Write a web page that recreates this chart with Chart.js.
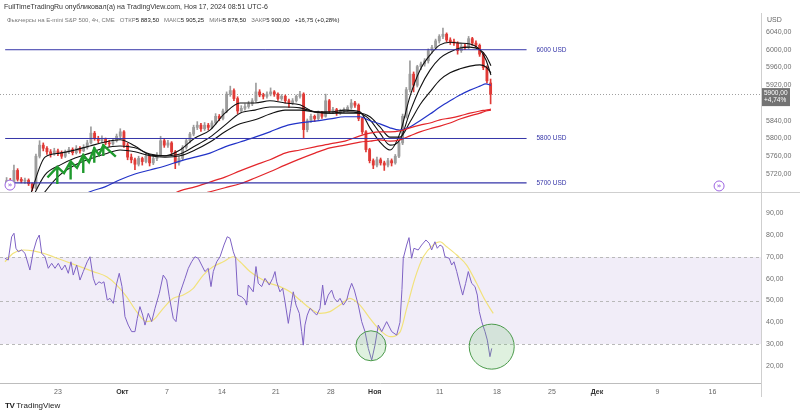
<!DOCTYPE html>
<html>
<head>
<meta charset="utf-8">
<script src="https://cdn.jsdelivr.net/npm/chart.js@4.4.1/dist/chart.umd.min.js"></script>
<style>
  html, body { margin: 0; padding: 0; background: #fff; width: 800px; height: 414px; overflow: hidden;
    font-family: "Liberation Sans", Arial, sans-serif; }
  #topBox { position: absolute; left: 0; top: 0; width: 800px; height: 193px; }
  #botBox { position: absolute; left: 0; top: 193px; width: 800px; height: 221px; }
  .head1 { position: absolute; left: 4px; top: 3px; font-size: 7px; color: #333; white-space: nowrap; }
  .head2 { position: absolute; left: 7px; top: 17px; font-size: 6px; color: #777; white-space: nowrap; }
  .head2 b { font-weight: normal; color: #222; }
  .usd { position: absolute; left: 767px; top: 16px; font-size: 7px; color: #666; }
  .logo { position: absolute; left: 5px; top: 401px; font-size: 8px; color: #222; white-space: nowrap; }
  .logo b { font-weight: 900; letter-spacing: -0.5px; margin-right: 2px; }
</style>
</head>
<body>
<div id="topBox"><canvas id="priceCanvas"></canvas></div>
<div id="botBox"><canvas id="rsiCanvas"></canvas></div>
<div class="head1">FullTimeTradingRu опубликовал(а) на TradingView.com, Ноя 17, 2024 08:51 UTC-6</div>
<div class="head2">Фьючерсы на E-mini S&amp;P 500, 4ч, CME&nbsp;&nbsp; ОТКР<b>5 883,50</b>&nbsp;&nbsp; МАКС<b>5 905,25</b>&nbsp;&nbsp; МИН<b>5 878,50</b>&nbsp;&nbsp; ЗАКР<b>5 900,00</b>&nbsp;&nbsp; <b>+16,75 (+0,28%)</b></div>
<div class="usd">USD</div>
<div class="logo"><b>TV</b>TradingView</div>

<script>
// x unit = trading days counted from Mon Sep 23 (0)
const tickDays = [0, 5.85, 9.9, 14.9, 19.8, 24.8, 28.8, 34.7, 39.9, 44.9, 49, 54.5, 59.5];
const tickLabels = ["23", "Окт", "7", "14", "21", "28", "Ноя", "11", "18", "25", "Дек", "9", "16"];
const monthLabels = ["Окт", "Ноя", "Дек"];
const priceTicks = [5720, 5760, 5800, 5840, 5920, 5960, 6000, 6040];
const rsiTicks = [20, 30, 40, 50, 60, 70, 80, 90];
const levels = [6000, 5800, 5700];

// candles (merged 4h bars, 3 per trading day)
const firstBarDay = -4.67;
const barsPerDay = 3;
const opens = [5702,5705,5700,5728,5708,5704,5706,5698,5688,5760,
  5785,5778,5770,5765,5772,5768,5760,5770,5775,5768,
  5778,5772,5780,5790,5812,5800,5795,5798,5790,5788,
  5795,5805,5815,5785,5758,5752,5742,5755,5748,5760,
  5745,5755,5762,5795,5785,5790,5770,5745,5755,5780,
  5795,5810,5825,5830,5822,5830,5825,5835,5850,5845,
  5862,5900,5908,5890,5862,5868,5872,5878,5885,5905,
  5898,5895,5900,5905,5900,5890,5895,5885,5880,5885,
  5895,5900,5820,5840,5850,5845,5858,5850,5885,5862,
  5865,5858,5862,5865,5870,5880,5875,5845,5815,5775,
  5750,5740,5752,5745,5740,5750,5745,5760,5790,5850,
  5910,5945,5920,5962,5968,5975,5998,6005,6020,6030,
  6035,6022,6018,6015,5998,6008,6005,6025,6015,6010,
  5990,5960,5925];
const highs = [5712,5710,5740,5732,5712,5711,5709,5700,5765,5795,
  5790,5782,5775,5778,5776,5772,5774,5780,5779,5784,
  5782,5786,5796,5826,5816,5805,5806,5801,5796,5800,
  5810,5822,5818,5790,5765,5756,5760,5758,5766,5763,
  5760,5768,5805,5800,5796,5793,5773,5760,5784,5799,
  5814,5830,5838,5834,5836,5834,5840,5856,5854,5866,
  5905,5918,5912,5894,5874,5878,5884,5890,5925,5910,
  5902,5905,5914,5908,5903,5899,5898,5889,5890,5898,
  5906,5903,5844,5855,5853,5862,5861,5900,5888,5870,
  5868,5866,5869,5874,5888,5884,5878,5848,5818,5778,
  5754,5758,5756,5749,5755,5754,5764,5795,5855,5915,
  5975,5950,5965,5972,5980,6002,6010,6024,6034,6049,
  6038,6027,6024,6018,6012,6013,6030,6028,6020,6013,
  5994,5964,5934];
const lows = [5696,5697,5698,5704,5700,5699,5694,5682,5686,5756,
  5772,5764,5758,5762,5761,5755,5757,5766,5763,5765,
  5767,5770,5776,5788,5796,5790,5791,5786,5782,5785,
  5792,5800,5780,5752,5745,5730,5738,5740,5745,5738,
  5741,5750,5760,5780,5780,5765,5732,5740,5752,5776,
  5790,5806,5820,5816,5818,5819,5822,5832,5840,5842,
  5858,5895,5885,5856,5858,5864,5868,5874,5882,5894,
  5889,5891,5896,5895,5886,5886,5880,5870,5876,5882,
  5891,5802,5815,5836,5838,5842,5845,5848,5858,5856,
  5852,5854,5858,5861,5866,5870,5840,5810,5770,5745,
  5732,5736,5740,5728,5736,5738,5742,5757,5786,5846,
  5905,5905,5916,5955,5963,5970,5992,6000,6015,6025,
  6018,6012,6010,5990,5994,6000,6002,6010,6005,5985,
  5955,5925,5878];
const closes = [5705,5700,5728,5708,5704,5706,5698,5688,5760,5785,
  5778,5770,5765,5772,5768,5760,5770,5775,5768,5778,
  5772,5780,5790,5812,5800,5795,5798,5790,5788,5795,
  5805,5815,5785,5758,5752,5742,5755,5748,5760,5745,
  5755,5762,5795,5785,5790,5770,5745,5755,5780,5795,
  5810,5825,5830,5822,5830,5825,5835,5850,5845,5862,
  5900,5908,5890,5862,5868,5872,5878,5885,5905,5898,
  5895,5900,5905,5900,5890,5895,5885,5880,5885,5895,
  5900,5820,5840,5850,5845,5858,5850,5885,5862,5865,
  5858,5862,5865,5870,5880,5875,5845,5815,5775,5750,
  5740,5752,5745,5740,5750,5745,5760,5790,5850,5910,
  5945,5920,5962,5968,5975,5998,6005,6020,6030,6035,
  6022,6018,6015,5998,6008,6005,6025,6015,6010,5990,
  5960,5930,5900];

// moving averages, read at these days
const maDays = [-2.55,-1.18,0.18,1.55,2.91,4.27,5.64,7.0,8.36,9.73,
  11.09,12.45,13.82,15.18,16.55,17.91,19.27,20.64,22.0,23.36,
  24.73,26.09,27.45,28.36,29.27,30.18,31.09,32.0,32.91,33.82,
  34.73,35.64,36.55,37.45,38.36,38.91,39.36];
const maFast = [5670,5758,5767,5774,5783,5792,5797,5783,5763,5761,
  5774,5801,5819,5857,5880,5880,5885,5880,5876,5860,
  5860,5864,5860,5824,5792,5774,5812,5895,5954,5988,
  6011,6017,6015,6013,6000,5977,5943];
const maMid = [5655,5718,5740,5756,5767,5779,5783,5779,5765,5761,
  5765,5783,5803,5830,5857,5864,5871,5871,5869,5860,
  5857,5860,5857,5842,5812,5785,5797,5860,5914,5954,
  5981,5995,6004,6006,6000,5986,5964];
const maSlow = [5630,5680,5718,5740,5754,5765,5774,5770,5761,5758,
  5761,5774,5792,5815,5833,5842,5855,5864,5864,5860,
  5857,5857,5857,5849,5826,5803,5803,5837,5876,5905,
  5932,5948,5957,5963,5966,5961,5948];
const maBlue = [null,null,null,5660,5680,5691,5707,5720,5729,5738,
  5749,5758,5767,5781,5792,5803,5815,5828,5835,5839,
  5844,5849,5849,5840,5833,5824,5819,5826,5840,5855,
  5871,5885,5898,5909,5918,5923,5920];
const maRed1 = [null,null,null,null,null,null,null,null,5652,5666,
  5682,5691,5702,5713,5727,5740,5752,5767,5774,5781,
  5788,5794,5806,5812,5815,5815,5817,5824,5830,5835,
  5842,5846,5851,5857,5862,5864,5866];
const maRed2 = [null,null,null,null,null,null,null,null,null,null,
  5658,5671,5680,5689,5698,5711,5725,5740,5754,5767,
  5779,5785,5792,5794,5797,5794,5797,5806,5815,5822,
  5828,5835,5844,5851,5857,5862,5864];

// RSI and its average
const rsiDays = [-4.82,-4.52,-4.21,-4.0,-3.82,-3.61,-3.30,-3.0,-2.55,-2.25,
  -1.94,-1.70,-1.48,-1.18,-0.88,-0.57,-0.27,0.03,0.34,0.64,
  0.94,1.18,1.39,1.70,2.0,2.30,2.66,2.91,3.21,3.43,
  3.73,3.97,4.18,4.48,4.73,5.03,5.34,5.57,5.82,6.09,
  6.39,6.70,7.0,7.21,7.45,7.70,7.91,8.21,8.52,8.82,
  9.21,9.57,9.88,10.12,10.48,10.73,11.03,11.34,11.55,11.85,
  12.15,12.45,12.75,13.06,13.36,13.66,13.91,14.12,14.43,14.73,
  15.09,15.39,15.64,15.94,16.15,16.34,16.70,17.0,17.15,17.30,
  17.75,18.0,18.21,18.52,18.82,19.21,19.52,19.73,19.88,20.18,
  20.43,20.64,20.94,21.15,21.39,21.64,21.94,22.15,22.30,22.45,
  22.66,22.91,23.21,23.52,23.82,24.06,24.27,24.57,24.88,25.12,
  25.39,25.64,25.94,26.25,26.48,26.70,26.94,27.30,27.61,27.91,
  28.21,28.52,28.82,29.12,29.43,29.88,30.34,30.79,31.09,31.27,
  31.39,31.70,31.91,32.15,32.36,32.75,33.06,33.45,33.75,33.97,
  34.27,34.48,34.73,34.97,35.18,35.57,35.79,36.0,36.25,36.55,
  36.79,37.06,37.30,37.61,37.91,38.12,38.30,38.52,38.82,39.03,
  39.27,39.43];
const rsiValues = [69.4,68.6,79.3,80.9,74.0,72.4,73.2,71.7,64.0,72.4,
  77.8,80.1,71.7,70.1,64.8,67.1,64.8,67.1,64.0,66.3,
  62.5,67.8,61.7,66.3,59.4,63.3,67.8,70.1,60.2,57.1,
  58.6,57.9,58.6,50.2,51.0,48.7,57.9,62.5,56.4,42.6,
  38.7,35.7,35.7,41.8,47.2,43.3,38.7,44.1,40.3,46.4,
  53.3,61.7,59.4,51.7,41.8,40.3,52.5,57.1,60.2,64.8,
  67.8,70.1,69.4,66.3,63.3,64.8,56.4,63.3,67.8,70.1,
  75.5,79.3,78.6,72.4,69.4,52.5,51.7,50.2,47.9,57.1,
  54.0,65.6,57.9,56.4,60.2,57.1,60.2,63.3,58.6,54.0,
  55.6,49.4,39.5,46.4,54.0,47.9,44.1,35.7,29.5,38.7,
  43.3,46.4,44.9,43.3,46.4,57.1,47.9,52.5,54.8,51.0,
  49.4,51.0,47.9,50.2,54.8,57.9,54.8,47.9,40.3,35.7,
  28.0,22.6,29.5,38.7,35.7,40.3,35.7,34.1,40.0,55.0,
  69.4,75.5,78.9,69.4,74.0,73.2,75.5,77.8,76.3,73.2,
  77.0,74.0,75.5,74.7,70.1,69.4,66.3,67.8,63.3,57.1,
  52.5,57.9,63.3,57.9,56.4,52.5,44.9,40.3,35.7,31.8,
  24.2,28.0];
const rsiMaDays = [-4.82,-4.06,-3.15,-2.25,-1.34,-0.43,0.79,2.0,3.21,4.43,
  5.34,6.25,7.15,8.06,8.66,9.57,10.48,11.39,12.30,13.21,
  14.12,15.03,15.94,16.55,17.45,18.36,19.27,20.18,21.09,22.0,
  22.91,23.82,24.73,25.64,26.55,27.45,28.36,29.27,30.18,31.09,
  31.70,32.45,33.21,34.12,34.73,35.34,36.25,37.15,38.06,38.82,
  39.57];
const rsiMaValues = [67.8,71.7,73.2,72.8,71.7,70.1,67.8,65.6,63.3,60.9,
  57.1,51.7,44.9,40.3,41.0,46.4,51.0,52.5,55.6,61.7,
  65.6,67.8,70.1,67.8,63.3,60.2,57.9,56.4,54.0,50.2,
  46.4,44.1,44.9,47.9,51.0,47.9,41.8,36.4,33.4,35.5,
  46.4,60.2,70.1,75.5,77.0,74.7,70.9,66.3,57.9,50.2,
  44.1];

// hand drawings (in data units)
const greenDays =   [-0.88,-0.06,0.55,1.15,1.73,2.30,2.82,3.30,3.73,4.12,5.18, null, -0.06,-0.06, null, 1.15,1.15, null, 2.30,2.30, null, 3.30,3.30, null, 4.12,4.12];
const greenPrices = [5714,5736,5722,5748,5734,5763,5747,5778,5763,5785,5761, null, 5736,5700, null, 5748,5710, null, 5763,5725, null, 5778,5748, null, 5785,5763];
const rsiCircles = [[28.45, 29.2], [39.43, 28.8]];
const eventMarks = [[-4.36, 5695], [60.1, 5693]];

const dayMin = -5.27, dayMax = 63.91;
const priceMin = 5679.4, priceMax = 6082.8;
const rsiMin = 12.1, rsiMax = 99.4;
const levelFrom = -4.8, levelTo = 42.6, levelLabelDay = 43.5;
const AXIS_W = 39;
const UP = "#9c9c9c", DOWN = "#e03a36", LEVEL = "#3535a8";

Chart.defaults.font.family = "'Liberation Sans', Arial, sans-serif";

const fmt = v => v.toFixed(2).replace(".", ",");
const candleDays = closes.map((_, i) => firstBarDay + i / barsPerDay);
const candleColor = ctx => closes[ctx.dataIndex] >= opens[ctx.dataIndex] ? UP : DOWN;
// keep tick labels from eating into the plot area
const noPad = s => { s.paddingTop = 0; s.paddingBottom = 0; s.paddingLeft = 0; s.paddingRight = 0; };

function maLine(values, color, width) {
  return {
    type: "line", order: 3,
    data: maDays.map((d, i) => ({ x: d, y: values[i] })),
    borderColor: color, borderWidth: width, pointRadius: 0,
    cubicInterpolationMode: "monotone", spanGaps: false
  };
}

// ---- top pane decorations
const topDecor = {
  id: "topDecor",
  beforeDatasetsDraw(chart) {
    const { ctx, chartArea: a, scales: { y } } = chart;
    const py = Math.round(y.getPixelForValue(closes[closes.length - 1])) + 0.5;
    ctx.save();
    ctx.strokeStyle = "#a0a0a0";
    ctx.lineWidth = 1;
    ctx.setLineDash([1, 2]);
    ctx.beginPath(); ctx.moveTo(a.left, py); ctx.lineTo(a.right, py); ctx.stroke();
    ctx.restore();
  },
  afterDraw(chart) {
    const { ctx, chartArea: a, scales: { x, y } } = chart;
    ctx.save();
    // separators
    ctx.strokeStyle = "#cfcfcf";
    ctx.lineWidth = 1;
    ctx.beginPath(); ctx.moveTo(a.right + 0.5, a.top); ctx.lineTo(a.right + 0.5, chart.height); ctx.stroke();
    ctx.beginPath(); ctx.moveTo(0, chart.height - 0.5); ctx.lineTo(chart.width, chart.height - 0.5); ctx.stroke();

    // level labels
    ctx.fillStyle = LEVEL;
    ctx.font = "6.5px 'Liberation Sans', Arial, sans-serif";
    ctx.textBaseline = "middle";
    ctx.textAlign = "left";
    levels.forEach(l => ctx.fillText(l + " USD", x.getPixelForValue(levelLabelDay), y.getPixelForValue(l)));

    // event icons
    eventMarks.forEach(([d, p]) => {
      const cx = x.getPixelForValue(d), cy = y.getPixelForValue(p);
      ctx.beginPath(); ctx.arc(cx, cy, 5, 0, Math.PI * 2);
      ctx.fillStyle = "#fff"; ctx.fill();
      ctx.strokeStyle = "#9b63e0"; ctx.lineWidth = 1; ctx.stroke();
      ctx.fillStyle = "#9b63e0";
      ctx.font = "bold 7px 'DejaVu Sans', sans-serif";
      ctx.textAlign = "center";
      ctx.fillText("»", cx, cy + 0.5);
    });

    // last price box
    const py = y.getPixelForValue(closes[closes.length - 1]);
    ctx.fillStyle = "#737373";
    ctx.fillRect(a.right + 1, py - 6, 28, 18);
    ctx.fillStyle = "#fff";
    ctx.font = "6.5px 'Liberation Sans', Arial, sans-serif";
    ctx.textAlign = "left";
    ctx.fillText("5900,00", a.right + 3, py - 1);
    ctx.fillText("+4,74%", a.right + 3, py + 6.5);
    ctx.restore();
  }
};

new Chart(document.getElementById("priceCanvas"), {
  type: "bar",
  data: {
    datasets: [
      {
        type: "bar", order: 6, grouped: false, barThickness: 1,
        data: candleDays.map((d, i) => ({ x: d, y: [lows[i], highs[i]] })),
        backgroundColor: candleColor
      },
      {
        type: "bar", order: 5, grouped: false, barThickness: 2.2, minBarLength: 1,
        data: candleDays.map((d, i) => ({ x: d, y: [opens[i], closes[i]] })),
        backgroundColor: candleColor
      },
      maLine(maRed2, "#e3262b", 1.2),
      maLine(maRed1, "#e3262b", 1.2),
      maLine(maBlue, "#2233c8", 1.2),
      maLine(maSlow, "#111", 1.1),
      maLine(maMid, "#111", 1.1),
      maLine(maFast, "#111", 1.1),
      ...levels.map(l => ({
        type: "line", order: 1,
        data: [{ x: levelFrom, y: l }, { x: levelTo, y: l }],
        borderColor: LEVEL, borderWidth: l === 5700 ? 1.3 : 1, pointRadius: 0
      })),
      {
        type: "line", order: 0,
        data: greenDays.map((d, i) => ({ x: d, y: greenPrices[i] })),
        borderColor: "#1f9a2e", borderWidth: 2.4, pointRadius: 0, spanGaps: false,
        borderJoinStyle: "miter", borderCapStyle: "square"
      }
    ]
  },
  options: {
    responsive: true, maintainAspectRatio: false, animation: false, events: [],
    layout: { padding: { top: 13, bottom: 1, left: 0, right: 0 } },
    plugins: { legend: { display: false }, tooltip: { enabled: false } },
    scales: {
      x: { type: "linear", min: dayMin, max: dayMax, display: false, offset: false },
      y: {
        position: "right", min: priceMin, max: priceMax,
        grid: { display: false, drawTicks: false }, border: { display: false },
        afterBuildTicks: s => { s.ticks = priceTicks.map(v => ({ value: v })); },
        afterFit: s => { s.width = AXIS_W; noPad(s); },
        ticks: { padding: 5, color: "#6f6f6f", font: { size: 7 }, callback: v => fmt(v) }
      }
    }
  },
  plugins: [topDecor]
});

// ---- RSI pane decorations
const rsiDecor = {
  id: "rsiDecor",
  beforeDatasetsDraw(chart) {
    const { ctx, chartArea: a, scales: { y } } = chart;
    const y70 = y.getPixelForValue(70), y30 = y.getPixelForValue(30);
    ctx.save();
    ctx.fillStyle = "rgba(126, 87, 194, 0.11)";
    ctx.fillRect(a.left, y70, a.right - a.left, y30 - y70);
    ctx.strokeStyle = "#b9b9b9";
    ctx.lineWidth = 1;
    ctx.setLineDash([3, 3]);
    [70, 50, 30].forEach(v => {
      const py = Math.round(y.getPixelForValue(v)) + 0.5;
      ctx.beginPath(); ctx.moveTo(a.left, py); ctx.lineTo(a.right, py); ctx.stroke();
    });
    ctx.restore();
  },
  afterDraw(chart) {
    const { ctx, chartArea: a, scales: { x, y } } = chart;
    ctx.save();
    const radii = [15, 22.5];
    rsiCircles.forEach(([d, v], i) => {
      ctx.beginPath();
      ctx.arc(x.getPixelForValue(d), y.getPixelForValue(v), radii[i], 0, Math.PI * 2);
      ctx.fillStyle = "rgba(110, 190, 110, 0.22)";
      ctx.fill();
      ctx.strokeStyle = "#4b9a4b";
      ctx.lineWidth = 1;
      ctx.stroke();
    });
    ctx.strokeStyle = "#cfcfcf";
    ctx.beginPath(); ctx.moveTo(a.right + 0.5, 0); ctx.lineTo(a.right + 0.5, a.bottom + 14); ctx.stroke();
    ctx.strokeStyle = "#bdbdbd";
    ctx.beginPath(); ctx.moveTo(0, a.bottom + 0.5); ctx.lineTo(a.right, a.bottom + 0.5); ctx.stroke();
    ctx.restore();
  }
};

new Chart(document.getElementById("rsiCanvas"), {
  type: "line",
  data: {
    datasets: [
      {
        data: rsiMaDays.map((d, i) => ({ x: d, y: rsiMaValues[i] })),
        borderColor: "#f2e27c", borderWidth: 1.2, pointRadius: 0, cubicInterpolationMode: "monotone", order: 2
      },
      {
        data: rsiDays.map((d, i) => ({ x: d, y: rsiValues[i] })),
        borderColor: "#7e62c4", borderWidth: 1, pointRadius: 0, tension: 0, order: 1
      }
    ]
  },
  options: {
    responsive: true, maintainAspectRatio: false, animation: false, events: [],
    layout: { padding: { top: 0, bottom: 0, left: 0, right: 0 } },
    plugins: { legend: { display: false }, tooltip: { enabled: false } },
    scales: {
      x: {
        type: "linear", min: dayMin, max: dayMax, offset: false,
        grid: { display: false, drawTicks: false }, border: { display: false },
        afterBuildTicks: s => { s.ticks = tickDays.map(v => ({ value: v })); },
        afterFit: s => { s.height = 31; noPad(s); },
        ticks: {
          autoSkip: false, maxRotation: 0, padding: 5,
          color: ctx => monthLabels.includes(tickLabels[ctx.index]) ? "#333" : "#666",
          font: ctx => ({ size: 7, weight: monthLabels.includes(tickLabels[ctx.index]) ? "bold" : "normal" }),
          callback: (v, i) => tickLabels[i]
        }
      },
      y: {
        position: "right", min: rsiMin, max: rsiMax,
        grid: { display: false, drawTicks: false }, border: { display: false },
        afterBuildTicks: s => { s.ticks = rsiTicks.map(v => ({ value: v })); },
        afterFit: s => { s.width = AXIS_W; noPad(s); },
        ticks: { padding: 5, color: "#6f6f6f", font: { size: 7 }, callback: v => fmt(v) }
      }
    }
  },
  plugins: [rsiDecor]
});
</script>
</body>
</html>
